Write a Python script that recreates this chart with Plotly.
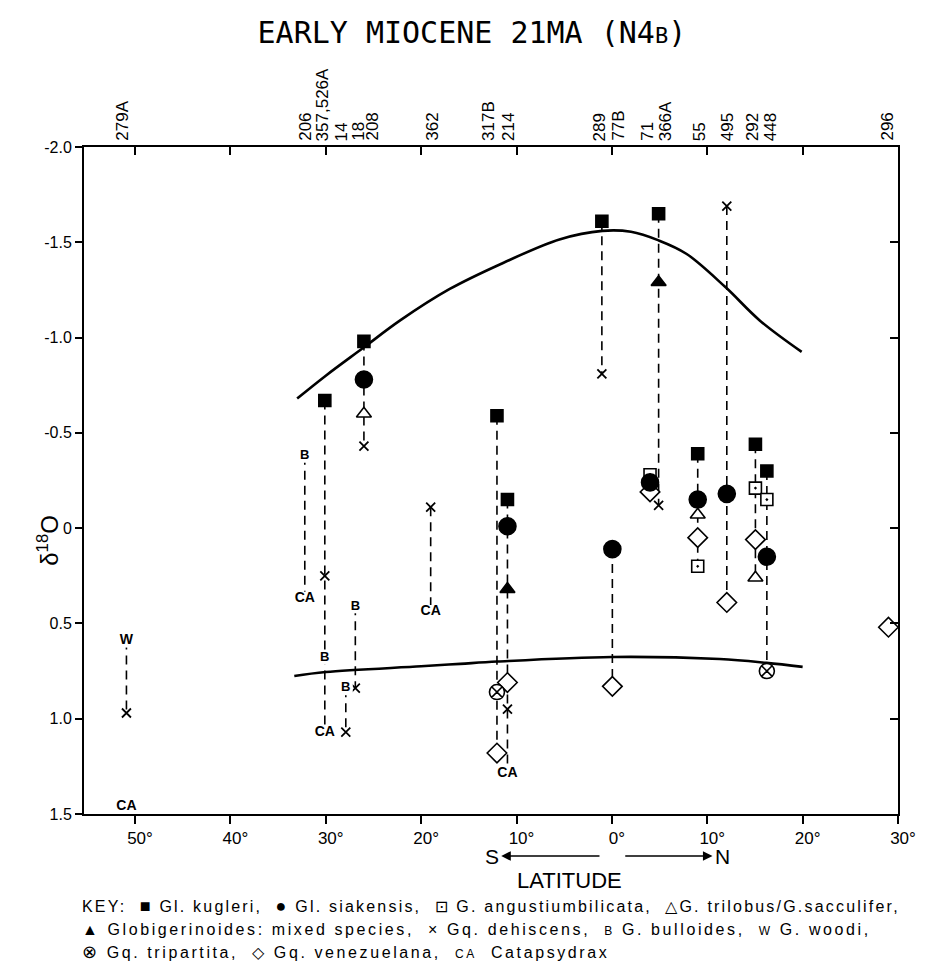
import plotly.graph_objects as go

# DSDP site columns: latitude in degrees (south negative)
sites = ["279A", "206", "357", "14", "18", "208", "362", "317B", "214",
         "289", "77B", "71", "366A", "55", "495", "292", "448", "296"]
site_lat = [-50.9, -32.2, -30.1, -27.9, -26.9, -26.0, -19.0, -12.05, -10.95,
            -1.05, 0.05, 4.0, 4.9, 9.0, 12.05, 15.05, 16.25, 29.0]

# Site labels along the top axis
label_text = ["279A", "206", "357,526A", "14", "18", "208", "362", "317B", "214",
              "289", "77B", "71", "366A", "55", "495", "292", "448", "296"]
label_lat = [-51.4, -32.2, -30.3, -28.3, -26.6, -25.2, -18.9, -13.0, -10.9,
             -1.3, 0.6, 3.7, 5.6, 9.2, 12.1, 14.7, 16.6, 28.8]

# Oxygen isotope values per taxon (site, d18O)
kugleri_sites = ["357", "208", "317B", "214", "289", "366A", "55", "292", "448"]
kugleri_d18o = [-0.67, -0.98, -0.59, -0.15, -1.61, -1.65, -0.39, -0.44, -0.30]

siakensis_sites = ["208", "214", "77B", "71", "55", "495", "448"]
siakensis_d18o = [-0.78, -0.01, 0.11, -0.24, -0.15, -0.18, 0.15]

angust_sites = ["71", "55", "292", "448"]
angust_d18o = [-0.28, 0.20, -0.21, -0.15]

trilobus_sites = ["208", "55", "292"]
trilobus_d18o = [-0.60, -0.07, 0.26]

mixed_sites = ["214", "366A"]
mixed_d18o = [0.32, -1.29]

dehiscens_sites = ["279A", "357", "14", "18", "208", "362", "214", "289", "366A", "495"]
dehiscens_d18o = [0.97, 0.25, 1.07, 0.84, -0.43, -0.11, 0.95, -0.81, -0.12, -1.69]

bulloides_sites = ["206", "357", "14", "18"]
bulloides_d18o = [-0.38, 0.68, 0.84, 0.41]

woodi_sites = ["279A"]
woodi_d18o = [0.59]

tripartita_sites = ["317B", "448"]
tripartita_d18o = [0.86, 0.75]

venez_sites = ["317B", "214", "77B", "71", "55", "495", "292", "296"]
venez_d18o = [1.18, 0.81, 0.83, -0.19, 0.05, 0.39, 0.06, 0.52]

catap_sites = ["279A", "206", "357", "362", "214"]
catap_d18o = [1.46, 0.37, 1.07, 0.44, 1.29]

# Values that stand alone (not joined to their column)
unlinked = [("279A", 1.46)]

# Envelope curves
upper_lat = [-33.0, -30.0, -26.1, -22.2, -17.0, -11.7, -5.5, -1.0, 2.0, 4.9, 7.8, 11.9, 15.5, 19.9]
upper_d18o = [-0.68, -0.80, -0.945, -1.09, -1.255, -1.385, -1.515, -1.56, -1.555, -1.51, -1.44, -1.265, -1.09, -0.925]
lower_lat = [-33.3, -30.0, -20.0, -15.9, -12.0, 0.0, 11.3, 16.2, 20.0]
lower_d18o = [0.776, 0.755, 0.725, 0.712, 0.70, 0.676, 0.687, 0.707, 0.728]

x_ticks = [-50, -40, -30, -20, -10, 0, 10, 20, 30]
x_ticktext = ["50°", "40°", "30°", "20°", "10°", "0°", "10°", "20°", "30°"]
y_ticks = [-2.0, -1.5, -1.0, -0.5, 0.0, 0.5, 1.0, 1.5]
y_ticktext = ["-2.0", "-1.5", "-1.0", "-0.5", "0", "0.5", "1.0", "1.5"]

lat_of = dict(zip(sites, site_lat))
FONT = "Liberation Sans, Arial, sans-serif"

fig = go.Figure()

# Dashed column connectors spanning each site's values
all_groups = [
    (kugleri_sites, kugleri_d18o), (siakensis_sites, siakensis_d18o),
    (angust_sites, angust_d18o), (trilobus_sites, trilobus_d18o),
    (mixed_sites, mixed_d18o), (dehiscens_sites, dehiscens_d18o),
    (bulloides_sites, bulloides_d18o), (woodi_sites, woodi_d18o),
    (tripartita_sites, tripartita_d18o), (venez_sites, venez_d18o),
    (catap_sites, catap_d18o),
]
col_vals = {s: [] for s in sites}
for s_list, v_list in all_groups:
    for s, v in zip(s_list, v_list):
        if (s, v) not in unlinked:
            col_vals[s].append(v)
cx, cy = [], []
for s in sites:
    vals = col_vals[s]
    if len(vals) > 1:
        cx += [lat_of[s], lat_of[s], None]
        cy += [min(vals), max(vals), None]
fig.add_trace(go.Scatter(x=cx, y=cy, mode="lines", hoverinfo="skip",
                         line=dict(color="black", width=1.6, dash="9px,6px"),
                         showlegend=False))

# Envelope curves
fig.add_trace(go.Scatter(x=upper_lat, y=upper_d18o, mode="lines",
                         line=dict(color="black", width=2.6, shape="spline", smoothing=1.0),
                         showlegend=False, hoverinfo="skip"))
fig.add_trace(go.Scatter(x=lower_lat, y=lower_d18o, mode="lines",
                         line=dict(color="black", width=2.6, shape="spline", smoothing=1.0),
                         showlegend=False, hoverinfo="skip"))


def add_markers(s_list, v_list, symbol, size, fill, name, lw=1.6):
    fig.add_trace(go.Scatter(
        x=[lat_of[s] for s in s_list], y=v_list, mode="markers", name=name,
        marker=dict(symbol=symbol, size=size, color=fill,
                    line=dict(color="black", width=lw)),
        showlegend=False))


def add_letters(s_list, v_list, letter, size, name):
    fig.add_trace(go.Scatter(
        x=[lat_of[s] for s in s_list], y=v_list, mode="markers+text", name=name,
        text=[letter] * len(s_list), textposition="middle center",
        textfont=dict(family=FONT, size=size, color="black", weight="bold"),
        marker=dict(symbol="square", size=14, color="white", line=dict(width=0)),
        showlegend=False))


add_markers(dehiscens_sites, dehiscens_d18o, "x-thin", 9, "black", "Gq. dehiscens", lw=1.8)
add_markers(venez_sites, venez_d18o, "diamond", 15, "white", "Gq. venezuelana")
add_markers(tripartita_sites, tripartita_d18o, "circle-x", 15, "white", "Gq. tripartita")
add_markers(trilobus_sites, trilobus_d18o, "triangle-up", 13, "white", "G. trilobus/G. sacculifer")
add_markers(mixed_sites, mixed_d18o, "triangle-up", 13, "black", "Globigerinoides")
add_markers(angust_sites, angust_d18o, "square-dot", 12, "white", "G. angustiumbilicata")
add_markers(siakensis_sites, siakensis_d18o, "circle", 17, "black", "Gl. siakensis")
add_markers(kugleri_sites, kugleri_d18o, "square", 12, "black", "Gl. kugleri")
add_letters(bulloides_sites, bulloides_d18o, "B", 13, "G. bulloides")
add_letters(woodi_sites, woodi_d18o, "W", 14, "G. woodi")
add_letters(catap_sites, catap_d18o, "CA", 14, "Catapsydrax")

# Pairing trace for the top/right tick axes
fig.add_trace(go.Scatter(x=[None], y=[None], xaxis="x2", yaxis="y2",
                         showlegend=False, hoverinfo="skip"))

x_range = [-55.35, 30.0]
y_range = [1.5, -2.0]
fig.update_layout(
    width=940, height=963,
    margin=dict(l=84, r=42, t=147, b=149),
    paper_bgcolor="white", plot_bgcolor="white",
    showlegend=False,
    title=dict(text="EARLY MIOCENE 21MA (N4<span style='font-size:22px'>B</span>)",
               x=0.502, xanchor="center", y=0.966, yanchor="middle",
               font=dict(family="DejaVu Sans Mono, monospace", size=30, color="black")),
    xaxis=dict(range=x_range, tickvals=x_ticks, ticktext=x_ticktext,
               showgrid=False, zeroline=False, showline=True, mirror=True,
               linecolor="black", linewidth=2, ticks="outside", ticklen=8,
               tickwidth=2, tickcolor="black", ticklabelshift=5,
               tickfont=dict(family=FONT, size=17, color="black")),
    yaxis=dict(range=y_range, tickvals=y_ticks, ticktext=y_ticktext,
               showgrid=False, zeroline=False, showline=True, mirror=True,
               linecolor="black", linewidth=2, ticks="outside", ticklen=7,
               tickwidth=2, tickcolor="black",
               tickfont=dict(family=FONT, size=16, color="black")),
    xaxis2=dict(range=x_range, tickvals=x_ticks[:-1], overlaying="x", side="top",
                anchor="y2", showgrid=False, zeroline=False, showline=False,
                ticks="inside", ticklen=8, tickwidth=2, tickcolor="black",
                showticklabels=False),
    yaxis2=dict(range=y_range, tickvals=y_ticks[1:-1], overlaying="y", side="right",
                anchor="x2", showgrid=False, zeroline=False, showline=False,
                ticks="inside", ticklen=8, tickwidth=2, tickcolor="black",
                showticklabels=False),
)

ann = []
# Site names above the frame
for t, lat in zip(label_text, label_lat):
    ann.append(dict(x=lat, y=1, xref="x", yref="paper", text=t, showarrow=False,
                    textangle=-90, xanchor="center", yanchor="bottom", yshift=4,
                    font=dict(family=FONT, size=17, color="black")))

# Y-axis title
ann.append(dict(x=-0.066, y=0.41, xref="paper", yref="paper",
                text="δ<sup>18</sup>O", showarrow=False, textangle=-90,
                font=dict(family=FONT, size=24, color="black")))

# Latitude direction: letters with arrows pointing outward from the equator
arrow_y = (814 - 856) / 667
ann.append(dict(x=-1.3, y=arrow_y, xref="x", yref="paper", ax=-12.6, ay=0,
                axref="x", ayref="pixel", text="S", showarrow=True,
                arrowside="start", arrowhead=2, startarrowhead=2,
                startarrowsize=1.2, arrowwidth=1.6, arrowcolor="black",
                startstandoff=1, font=dict(family=FONT, size=21, color="black")))
ann.append(dict(x=1.4, y=arrow_y, xref="x", yref="paper", ax=11.6, ay=0,
                axref="x", ayref="pixel", text="N", showarrow=True,
                arrowside="start", arrowhead=2, startarrowhead=2,
                startarrowsize=1.2, arrowwidth=1.6, arrowcolor="black",
                startstandoff=1, font=dict(family=FONT, size=21, color="black")))
ann.append(dict(x=-4.4, y=(814 - 880) / 667, xref="x", yref="paper", text="LATITUDE",
                showarrow=False, yanchor="middle",
                font=dict(family=FONT, size=22, color="black")))

# Key
small = "<span style='font-size:12px'>{}</span>"
sym = "<span style='font-size:18px'>{}</span>"
key_lines = [
    "KEY:  " + sym.format("■") + " Gl. kugleri,  " + sym.format("●")
    + " Gl. siakensis,  ⊡ G. angustiumbilicata,  △G. trilobus/G.sacculifer,",
    "▲ Globigerinoides: mixed species,  × Gq. dehiscens,  " + small.format("B")
    + " G. bulloides,  " + small.format("W") + " G. woodi,",
    sym.format("⊗") + " Gq. tripartita,  ◇ Gq. venezuelana,  " + small.format("CA")
    + "  Catapsydrax",
]
key_spacing = ["2.2px", "2.6px", "2.6px"]
for i, line in enumerate(key_lines):
    ann.append(dict(x=(80 - 84) / 814, y=(814 - (906 + 23 * i)) / 667,
                    xref="paper", yref="paper",
                    text="<span style='letter-spacing:" + key_spacing[i] + "'>" + line + "</span>",
                    showarrow=False, xanchor="left", yanchor="middle", align="left",
                    font=dict(family=FONT, size=16, color="black")))

fig.update_layout(annotations=ann)
fig.write_html("out.html")
